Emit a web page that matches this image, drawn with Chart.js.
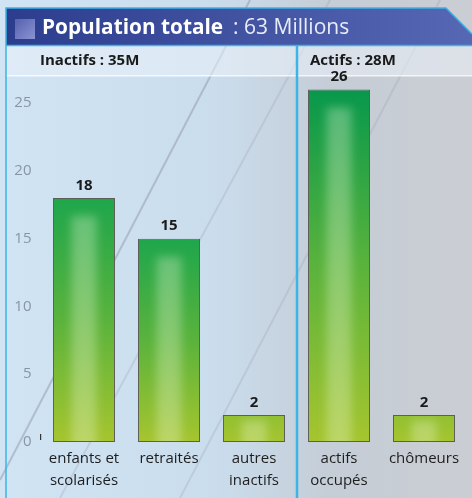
<!DOCTYPE html>
<html>
<head>
<meta charset="utf-8">
<script src="https://cdn.jsdelivr.net/npm/chart.js@4"></script>
<style>
  html, body { margin: 0; padding: 0; background: #cfdfee; }
  #wrap { position: relative; width: 472px; height: 498px; }
  canvas { position: absolute; left: 0; top: 0; }
</style>
</head>
<body>
<div id="wrap"><canvas id="popChart" width="472" height="498"></canvas></div>
<script>
const categories = [['enfants et', 'scolarisés'], 'retraités', ['autres', 'inactifs'], ['actifs', 'occupés'], 'chômeurs'];
const millions = [18, 15, 2, 26, 2];
const yTicks = [0, 5, 10, 15, 20, 25];
const title = 'Population totale';
const titleValue = ': 63 Millions';
const groupLabels = ['Inactifs : 35M', 'Actifs : 28M'];

const FONT = '"Open Sans", "Noto Sans", sans-serif';

const backdrop = {
    id: 'backdrop',
    beforeDraw(chart) {
        const ctx = chart.ctx;
        const W = chart.width, H = chart.height;
        ctx.save();
        let bg = ctx.createLinearGradient(0, 0, W, 0);
        bg.addColorStop(0, '#d0e4f4');
        bg.addColorStop(0.45, '#cadded');
        bg.addColorStop(0.7, '#c5cdd7');
        bg.addColorStop(1, '#cbcdd3');
        ctx.fillStyle = bg;
        ctx.fillRect(0, 0, W, H);
        // faint diagonal streaks from the photo
        ctx.strokeStyle = 'rgba(120,120,140,0.35)';
        ctx.lineWidth = 2;
        ctx.beginPath(); ctx.moveTo(0, 480); ctx.lineTo(250, 0); ctx.stroke();
        ctx.strokeStyle = 'rgba(150,150,170,0.25)';
        ctx.beginPath(); ctx.moveTo(60, 498); ctx.lineTo(330, 0); ctx.stroke();
        ctx.beginPath(); ctx.moveTo(180, 498); ctx.lineTo(440, 0); ctx.stroke();
        // subtitle band
        ctx.fillStyle = 'rgba(235,242,250,0.55)';
        ctx.fillRect(6, 46, W - 6, 29);
        ctx.fillStyle = 'rgba(255,255,255,0.8)';
        ctx.fillRect(6, 75, W - 6, 1.5);
        // title bar with cut corner
        let tb = ctx.createLinearGradient(6, 0, W, 0);
        tb.addColorStop(0, '#2c3d8e');
        tb.addColorStop(1, '#5668b4');
        ctx.beginPath();
        ctx.moveTo(6, 8); ctx.lineTo(446, 8); ctx.lineTo(472, 34); ctx.lineTo(472, 45); ctx.lineTo(6, 45); ctx.closePath();
        ctx.fillStyle = tb;
        ctx.fill();
        ctx.strokeStyle = '#3cb4e6';
        ctx.lineWidth = 1.5;
        ctx.beginPath();
        ctx.moveTo(6, 498); ctx.lineTo(6, 8); ctx.lineTo(446, 8); ctx.lineTo(472, 34);
        ctx.stroke();
        ctx.beginPath(); ctx.moveTo(6, 45.5); ctx.lineTo(472, 45.5); ctx.stroke();
        ctx.lineWidth = 2.5;
        ctx.beginPath(); ctx.moveTo(297, 46); ctx.lineTo(297, 498); ctx.stroke();
        // title square
        let sq = ctx.createLinearGradient(15, 19, 35, 39);
        sq.addColorStop(0, '#5561b0');
        sq.addColorStop(1, '#8b93d0');
        ctx.fillStyle = sq;
        ctx.fillRect(15, 19, 20, 20);
        // title text
        ctx.textBaseline = 'middle';
        ctx.textAlign = 'left';
        ctx.fillStyle = '#ffffff';
        ctx.font = 'bold 20.8px ' + FONT;
        ctx.fillText(title, 42, 28);
        const tw = ctx.measureText(title).width;
        ctx.fillStyle = '#e8ecf8';
        ctx.font = '21px ' + FONT;
        ctx.fillText(titleValue, 42 + tw + 10, 28);
        // group labels
        ctx.fillStyle = '#1a1a1a';
        ctx.font = 'bold 15px ' + FONT;
        ctx.fillText(groupLabels[0], 40, 61);
        ctx.fillText(groupLabels[1], 310, 61);
        // small tick near zero
        ctx.fillStyle = '#333';
        ctx.fillRect(40, 434, 1.2, 6);
        ctx.restore();
    }
};

const barDecor = {
    id: 'barDecor',
    afterDatasetsDraw(chart) {
        const ctx = chart.ctx;
        const meta = chart.getDatasetMeta(0);
        ctx.save();
        meta.data.forEach((bar, i) => {
            const left = bar.x - bar.width / 2;
            const top = bar.y;
            const h = bar.base - bar.y;
            // soft vertical highlight in the middle of each bar
            ctx.save();
            ctx.beginPath();
            ctx.rect(left + 1, top + 1, bar.width - 2, h - 2);
            ctx.clip();
            ctx.filter = 'blur(5px)';
            ctx.fillStyle = 'rgba(240,250,220,0.32)';
            ctx.fillRect(bar.x - bar.width * 0.2, top + Math.min(18, h * 0.2), bar.width * 0.4, h);
            ctx.restore();
            // value label
            ctx.fillStyle = '#1a1a1a';
            ctx.font = 'bold 15px ' + FONT;
            ctx.textAlign = 'center';
            ctx.textBaseline = 'bottom';
            ctx.fillText(String(millions[i]), bar.x, top - 5);
        });
        ctx.restore();
    }
};

new Chart(document.getElementById('popChart'), {
    type: 'bar',
    data: {
        labels: categories,
        datasets: [{
            data: millions,
            backgroundColor: (c) => {
                const ys = c.chart.scales.y;
                if (!c.chart.chartArea || !ys) return '#8cc040';
                const base = ys.getPixelForValue(0);
                const top = Math.min(ys.getPixelForValue(c.raw), base - 200);
                const g = c.chart.ctx.createLinearGradient(0, top, 0, base);
                g.addColorStop(0, c.raw > 20 ? '#07984c' : '#1ea64c');
                g.addColorStop(0.5, '#5ab33c');
                g.addColorStop(1, '#a6c52e');
                return g;
            },
            borderColor: '#5e5e58',
            borderWidth: 1,
            borderSkipped: false,
            barPercentage: 0.73,
            categoryPercentage: 1
        }]
    },
    options: {
        responsive: false,
        animation: false,
        layout: { padding: { top: 76, right: 5.5, left: 0, bottom: 0 } },
        plugins: { legend: { display: false }, tooltip: { enabled: false } },
        scales: {
            y: {
                min: 0,
                max: 27,
                afterFit: (s) => { s.width = 41.5; },
                afterBuildTicks: (s) => { s.ticks = yTicks.map(v => ({ value: v })); },
                grid: { display: false, drawTicks: false },
                border: { display: false },
                ticks: { color: '#8796a6', font: { family: FONT, size: 15 }, padding: 10 }
            },
            x: {
                afterFit: (s) => { s.height = 56; },
                grid: { display: false, drawTicks: false },
                border: { display: false },
                ticks: { color: '#1e1e1e', font: { family: FONT, size: 15, lineHeight: 1.45 }, padding: 6, maxRotation: 0, autoSkip: false }
            }
        }
    },
    plugins: [backdrop, barDecor]
});
</script>
</body>
</html>
